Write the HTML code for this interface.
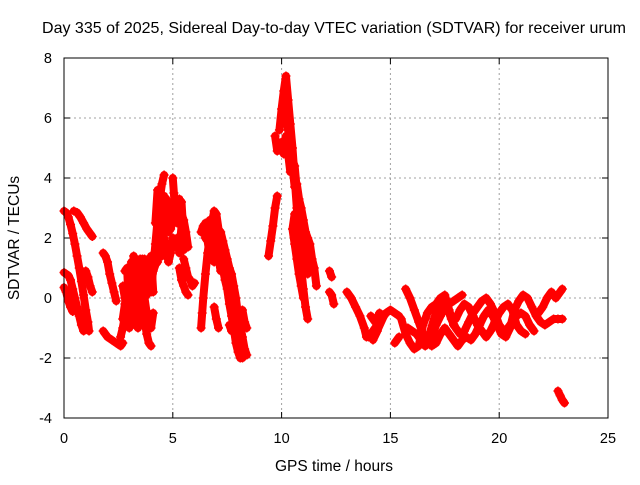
<!DOCTYPE html>
<html><head><meta charset="utf-8"><style>
body{margin:0;background:#fff;}
svg text{font-family:"Liberation Sans",sans-serif;fill:#000;}
</style></head><body>
<svg id="chart" width="640" height="480" xmlns="http://www.w3.org/2000/svg">
<rect width="640" height="480" fill="#fff"/>
<text x="334" y="33" font-size="16" text-anchor="middle">Day 335 of 2025, Sidereal Day-to-day VTEC variation (SDTVAR) for receiver urum</text>
<text x="334" y="471" font-size="15.5" text-anchor="middle">GPS time / hours</text>
<text x="19" y="238" font-size="15.5" text-anchor="middle" transform="rotate(-90 19 238)">SDTVAR / TECUs</text>
<g id="grid"></g><g id="ticks"></g><g id="marks"></g>
<rect x="64" y="58" width="544" height="360" fill="none" stroke="#000" stroke-width="1"/>
</svg>
<script>
const xTicks=[0,5,10,15,20,25];
const yTicks=[-4,-2,0,2,4,6,8];
const seg1=[[0,2.9],[0.1,2.85],[0.2,2.7],[0.3,2.45],[0.4,2.15],[0.5,1.8],[0.6,1.4],[0.7,1.0],[0.8,0.55],[0.9,0.1],[1.0,-0.4],[1.1,-0.8],[1.15,-1.1]];
const seg2=[[0,0.85],[0.1,0.8],[0.2,0.75],[0.3,0.6],[0.4,0.3],[0.5,0],[0.6,-0.3],[0.7,-0.6],[0.8,-0.9],[0.9,-1.1]];
const seg3=[[0,0.35],[0.1,0.2],[0.2,-0.1],[0.3,-0.3],[0.4,-0.45]];
const seg4=[[0.45,2.9],[0.6,2.85],[0.75,2.7],[0.9,2.5],[1.05,2.3],[1.2,2.15],[1.3,2.05]];
const seg5=[[1.0,0.9],[1.1,0.7],[1.2,0.4],[1.3,0.2]];
const seg6=[[1.8,1.5],[1.9,1.4],[2.0,1.2],[2.1,0.8],[2.2,0.5],[2.3,0.2],[2.4,-0.1]];
const seg7=[[1.8,-1.1],[1.9,-1.2],[2.0,-1.3],[2.2,-1.4],[2.4,-1.5],[2.6,-1.6],[2.7,-1.5]];
const seg8=[[2.7,-0.7],[2.8,-0.2],[2.9,0.3],[3.0,0.8],[3.1,1.2],[3.2,1.0],[3.3,0.5],[3.4,0.8],[3.5,1.3],[3.6,0.5],[3.7,0.0],[3.8,-0.5],[3.9,-0.9],[4.0,-1.0],[4.1,-0.5]];
const seg8b=[[2.6,-1.3],[2.7,-1.0],[2.8,-0.6],[2.9,-0.3],[3.0,0.1],[3.1,0.4],[3.2,0.2],[3.3,-0.2],[3.4,0],[3.5,0.3],[3.6,1.0],[3.7,1.3],[3.8,0.6],[3.9,0.3],[4.0,0.5],[4.1,0.9],[4.2,1.1]];
const seg8c=[[2.8,0.9],[2.9,1.0],[3.0,-0.6],[3.1,-0.2],[3.2,1.4],[3.3,1.0],[3.4,-0.6],[3.5,-0.3],[3.6,1.3],[3.7,0.8],[3.8,0.1],[3.9,1.2],[4.0,1.4],[4.1,0.2]];
const seg8d=[[2.7,0.4],[2.8,0.0],[3.0,-1.0],[3.1,-0.8],[3.2,-0.5],[3.3,-0.9],[3.4,-1.0],[3.5,-0.8],[3.6,-0.4],[3.7,-0.7],[3.8,-1.2],[3.9,-1.5],[4.0,-1.6]];
const seg9=[[4.0,0.2],[4.1,1.0],[4.2,1.8],[4.3,2.6],[4.4,3.3],[4.5,3.8],[4.6,4.1]];
const seg9b=[[4.2,2.5],[4.3,3.6],[4.4,2.3],[4.5,2.9],[4.6,3.4],[4.7,2.7],[4.8,2.2],[4.9,2.8],[5.0,3.0],[5.1,2.6],[5.2,3.0],[5.3,2.7],[5.4,3.2],[5.5,2.0]];
const seg9c=[[4.3,1.2],[4.4,1.9],[4.5,1.4],[4.6,2.6],[4.7,3.3],[4.8,3.0],[4.9,2.3],[5.0,2.6],[5.1,3.3],[5.2,2.5],[5.3,3.3],[5.4,2.8],[5.5,2.6],[5.6,2.2],[5.7,1.7]];
const seg10=[[4.6,2.0],[4.7,1.6],[4.8,1.2],[4.9,1.5],[5.0,2.0],[5.1,1.8],[5.2,2.0],[5.3,1.5],[5.4,2.4],[5.5,1.6],[5.6,1.7]];
const seg10b=[[5.0,4.0],[5.05,3.5],[5.1,2.9]];
const seg11=[[5.5,1.3],[5.6,1.0],[5.7,0.7],[5.8,0.6],[5.9,0.4],[6.0,0.5]];
const seg11b=[[5.3,1.0],[5.4,0.6],[5.5,0.4],[5.6,0.2],[5.7,0.1]];
const seg12=[[6.3,-1.0],[6.35,-0.5],[6.4,0.0],[6.5,0.8],[6.6,1.5],[6.7,2.0],[6.8,2.5],[6.9,2.9],[7.0,2.8],[7.1,2.3],[7.2,1.6],[7.3,1.0],[7.4,0.6],[7.5,0.3],[7.6,-0.2],[7.7,-0.6],[7.8,-1.0],[7.9,-1.5],[8.0,-1.8],[8.1,-2.0],[8.2,-2.0]];
const seg12b=[[6.3,2.2],[6.4,2.4],[6.5,2.0],[6.6,1.9],[6.7,1.4],[6.8,1.8],[6.9,1.2],[7.0,1.6],[7.1,1.3],[7.2,0.9],[7.3,1.5],[7.4,1.2],[7.5,0.9],[7.6,0.6],[7.7,0.3],[7.8,0.0],[7.9,-0.3]];
const seg12c=[[6.9,-0.3],[7.0,-0.7],[7.1,-1.0]];
const seg12d=[[6.5,2.5],[6.6,2.2],[6.7,2.6],[6.8,2.1],[6.9,2.4],[7.0,2.0],[7.1,1.8],[7.2,2.2],[7.3,1.9],[7.4,1.6],[7.5,1.3],[7.6,1.0],[7.7,0.8],[7.8,0.4],[7.9,0.0],[8.0,-0.6],[8.1,-1.2],[8.2,-1.6],[8.3,-1.9]];
const seg13=[[8.0,-0.6],[8.1,-0.9],[8.2,-1.3],[8.3,-1.7],[8.4,-1.9]];
const seg13b=[[7.6,-0.9],[7.7,-1.1],[7.8,-0.4],[7.9,-0.6],[8.0,-0.9],[8.1,-0.5],[8.2,-0.4],[8.3,-0.8],[8.4,-1.0]];
const seg14=[[9.4,1.4],[9.5,1.9],[9.6,2.4],[9.7,3.0],[9.8,3.4]];
const seg15=[[9.9,5.6],[10.0,6.3],[10.1,6.9],[10.2,7.4],[10.3,6.6],[10.4,5.8],[10.5,5.0],[10.6,4.0],[10.7,3.0],[10.8,2.0],[10.9,1.0],[11.0,0.3],[11.1,-0.3],[11.2,-0.7]];
const seg15b=[[9.7,5.4],[9.8,4.9],[10.0,5.2],[10.1,4.8],[10.2,5.4],[10.3,4.8],[10.4,4.2],[10.5,4.4],[10.6,3.7],[10.7,3.8],[10.8,3.3],[10.9,3.0],[11.0,2.6],[11.1,2.2],[11.2,2.0],[11.3,1.8],[11.4,1.3],[11.5,1.0],[11.6,0.4]];
const seg15c=[[10.0,5.8],[10.1,6.2],[10.2,6.0],[10.3,5.6],[10.4,5.1],[10.5,4.6],[10.6,4.4],[10.7,3.6],[10.8,2.8],[10.9,2.2],[11.0,1.6],[11.1,1.2],[11.2,0.8]];
const seg16=[[10.6,2.8],[10.5,2.3],[10.6,1.8],[10.7,1.3],[10.8,0.8],[10.9,0.4],[11.0,0.0]];
const seg17=[[12.2,0.9],[12.3,0.7]];
const seg17b=[[12.2,0.2],[12.3,0.1],[12.4,-0.2]];
const seg18=[[13.0,0.2],[13.2,0.0],[13.4,-0.3],[13.6,-0.6],[13.8,-1.0],[13.9,-1.3]];
const seg19=[[14.0,-1.3],[14.2,-1.1],[14.4,-0.9],[14.6,-0.7],[14.8,-0.5],[15.0,-0.4],[15.2,-0.5],[15.4,-0.6]];
const seg19b=[[14.1,-0.6],[14.3,-0.8],[14.5,-0.5],[14.7,-0.6],[14.2,-1.4],[14.4,-1.1]];
const seg20=[[15.2,-1.5],[15.4,-1.3]];
const seg21=[[15.7,0.3],[15.9,0.0],[16.1,-0.4],[16.3,-0.8],[16.5,-1.2],[16.7,-1.5],[16.9,-1.3],[17.1,-0.9],[17.3,-0.6],[17.5,-0.3],[17.7,-0.2],[17.9,-0.1],[18.1,0.0],[18.3,0.1]];
const seg22=[[15.8,-1.0],[16.0,-1.1],[16.2,-1.2],[16.4,-1.4],[16.6,-1.6],[16.8,-1.2],[17.0,-0.7],[17.2,-0.3],[17.4,-0.1],[17.6,-0.3],[17.8,-0.7],[18.0,-1.0],[18.2,-1.2],[18.4,-1.1],[18.6,-0.8],[18.8,-0.5],[19.0,-0.3],[19.2,-0.1],[19.4,0.0],[19.6,-0.2],[19.8,-0.5],[20.0,-0.9],[20.2,-1.1],[20.4,-1.0],[20.6,-0.8],[20.8,-0.6],[21.0,-0.5],[21.2,-0.6],[21.4,-0.9],[21.6,-1.1]];
const seg23=[[16.9,-1.6],[17.1,-1.5],[17.3,-1.2],[17.5,-1.0],[17.7,-1.2],[17.9,-1.4],[18.1,-1.6],[18.3,-1.4],[18.5,-1.3],[18.7,-1.4],[18.9,-1.2],[19.1,-0.9],[19.3,-0.6],[19.5,-0.4],[19.7,-0.6],[19.9,-0.9],[20.1,-1.2],[20.3,-1.3],[20.5,-1.0],[20.7,-0.4],[20.9,-0.1],[21.1,0.1],[21.3,0.0],[21.5,-0.3],[21.7,-0.6],[21.9,-0.8],[22.1,-0.9],[22.3,-0.8],[22.5,-0.7],[22.7,-0.7],[22.9,-0.7]];
const seg24=[[18.0,-0.7],[18.2,-0.4],[18.4,-0.2],[18.6,-0.3],[18.8,-0.6],[19.0,-0.9],[19.2,-1.1],[19.4,-1.3],[19.6,-1.1],[19.8,-0.8],[20.0,-0.5],[20.2,-0.3],[20.4,-0.2],[20.6,-0.4],[20.8,-0.9],[21.0,-1.1],[21.2,-1.2]];
const seg25=[[21.8,-0.5],[22.0,-0.3],[22.2,0.0],[22.4,0.2],[22.6,0.0],[22.8,0.2],[22.9,0.3]];
const seg26=[[15.5,-0.7],[15.7,-1.2],[15.9,-1.5],[16.1,-1.7],[16.3,-1.6],[16.5,-0.9],[16.7,-0.5],[16.9,-0.3],[17.1,-0.2],[17.3,0.0],[17.5,0.1],[17.7,-0.4],[17.9,-0.9]];
const seg27=[[22.7,-3.1],[22.8,-3.25],[22.9,-3.4],[23.0,-3.5]];
const segments=[seg1,seg2,seg3,seg4,seg5,seg6,seg7,seg8,seg8b,seg8c,seg8d,seg9,seg9b,seg9c,seg10,seg10b,seg11,seg11b,seg12,seg12b,seg12c,seg12d,seg13,seg13b,seg14,seg15,seg15b,seg15c,seg16,seg17,seg17b,seg18,seg19,seg19b,seg20,seg21,seg22,seg23,seg24,seg25,seg26,seg27];

const NS="http://www.w3.org/2000/svg";
const X0=64,X1=608,Y0=418,Y1=58,XMIN=0,XMAX=25,YMIN=-4,YMAX=8;
function sx(v){return X0+(v-XMIN)/(XMAX-XMIN)*(X1-X0);}
function sy(v){return Y0-(v-YMIN)/(YMAX-YMIN)*(Y0-Y1);}
function mk(tag,attrs,parent){const e=document.createElementNS(NS,tag);for(const k in attrs)e.setAttribute(k,attrs[k]);parent.appendChild(e);return e;}
const grid=document.getElementById('grid'),ticks=document.getElementById('ticks'),marks=document.getElementById('marks');
xTicks.forEach(t=>{
  const x=sx(t);
  if(t>XMIN&&t<XMAX){const g=mk('line',{x1:x,x2:x,y1:Y1,y2:Y0,stroke:'#a0a0a0','stroke-dasharray':'2,3'},grid);
  
  }
  mk('line',{x1:x,x2:x,y1:Y0,y2:Y0-6,stroke:'#000'},ticks);
  mk('line',{x1:x,x2:x,y1:Y1,y2:Y1+6,stroke:'#000'},ticks);
  const l=mk('text',{x:x,y:Y0+25,'font-size':'14.5','text-anchor':'middle'},ticks);l.textContent=t;
  
  
});
yTicks.forEach(t=>{
  const y=sy(t);
  if(t>YMIN&&t<YMAX){const g=mk('line',{x1:X0,x2:X1,y1:y,y2:y,stroke:'#a0a0a0','stroke-dasharray':'2,3'},grid);
  
  }
  mk('line',{x1:X0,x2:X0+6,y1:y,y2:y,stroke:'#000'},ticks);
  mk('line',{x1:X1,x2:X1-6,y1:y,y2:y,stroke:'#000'},ticks);
  const l=mk('text',{x:X0-12,y:y+5,'font-size':'14.5','text-anchor':'end'},ticks);l.textContent=t;
  
  
});
segments.forEach(seg=>{
  const pts=seg.map(p=>sx(p[0])+','+sy(p[1])).join(' ');
  const pl=mk('polyline',{points:pts,fill:'none',stroke:'#ff0000','stroke-width':'8','stroke-linejoin':'round','stroke-linecap':'round'},marks);
  
  
  seg.forEach(p=>{
    const x=sx(p[0]),y=sy(p[1]);
    const m=mk('path',{d:`M${x-4.5},${y}H${x+4.5}M${x},${y-4.5}V${y+4.5}`,stroke:'#ff0000','stroke-width':'1.5'},marks);
    
    
  });
});
</script>
</body></html>
